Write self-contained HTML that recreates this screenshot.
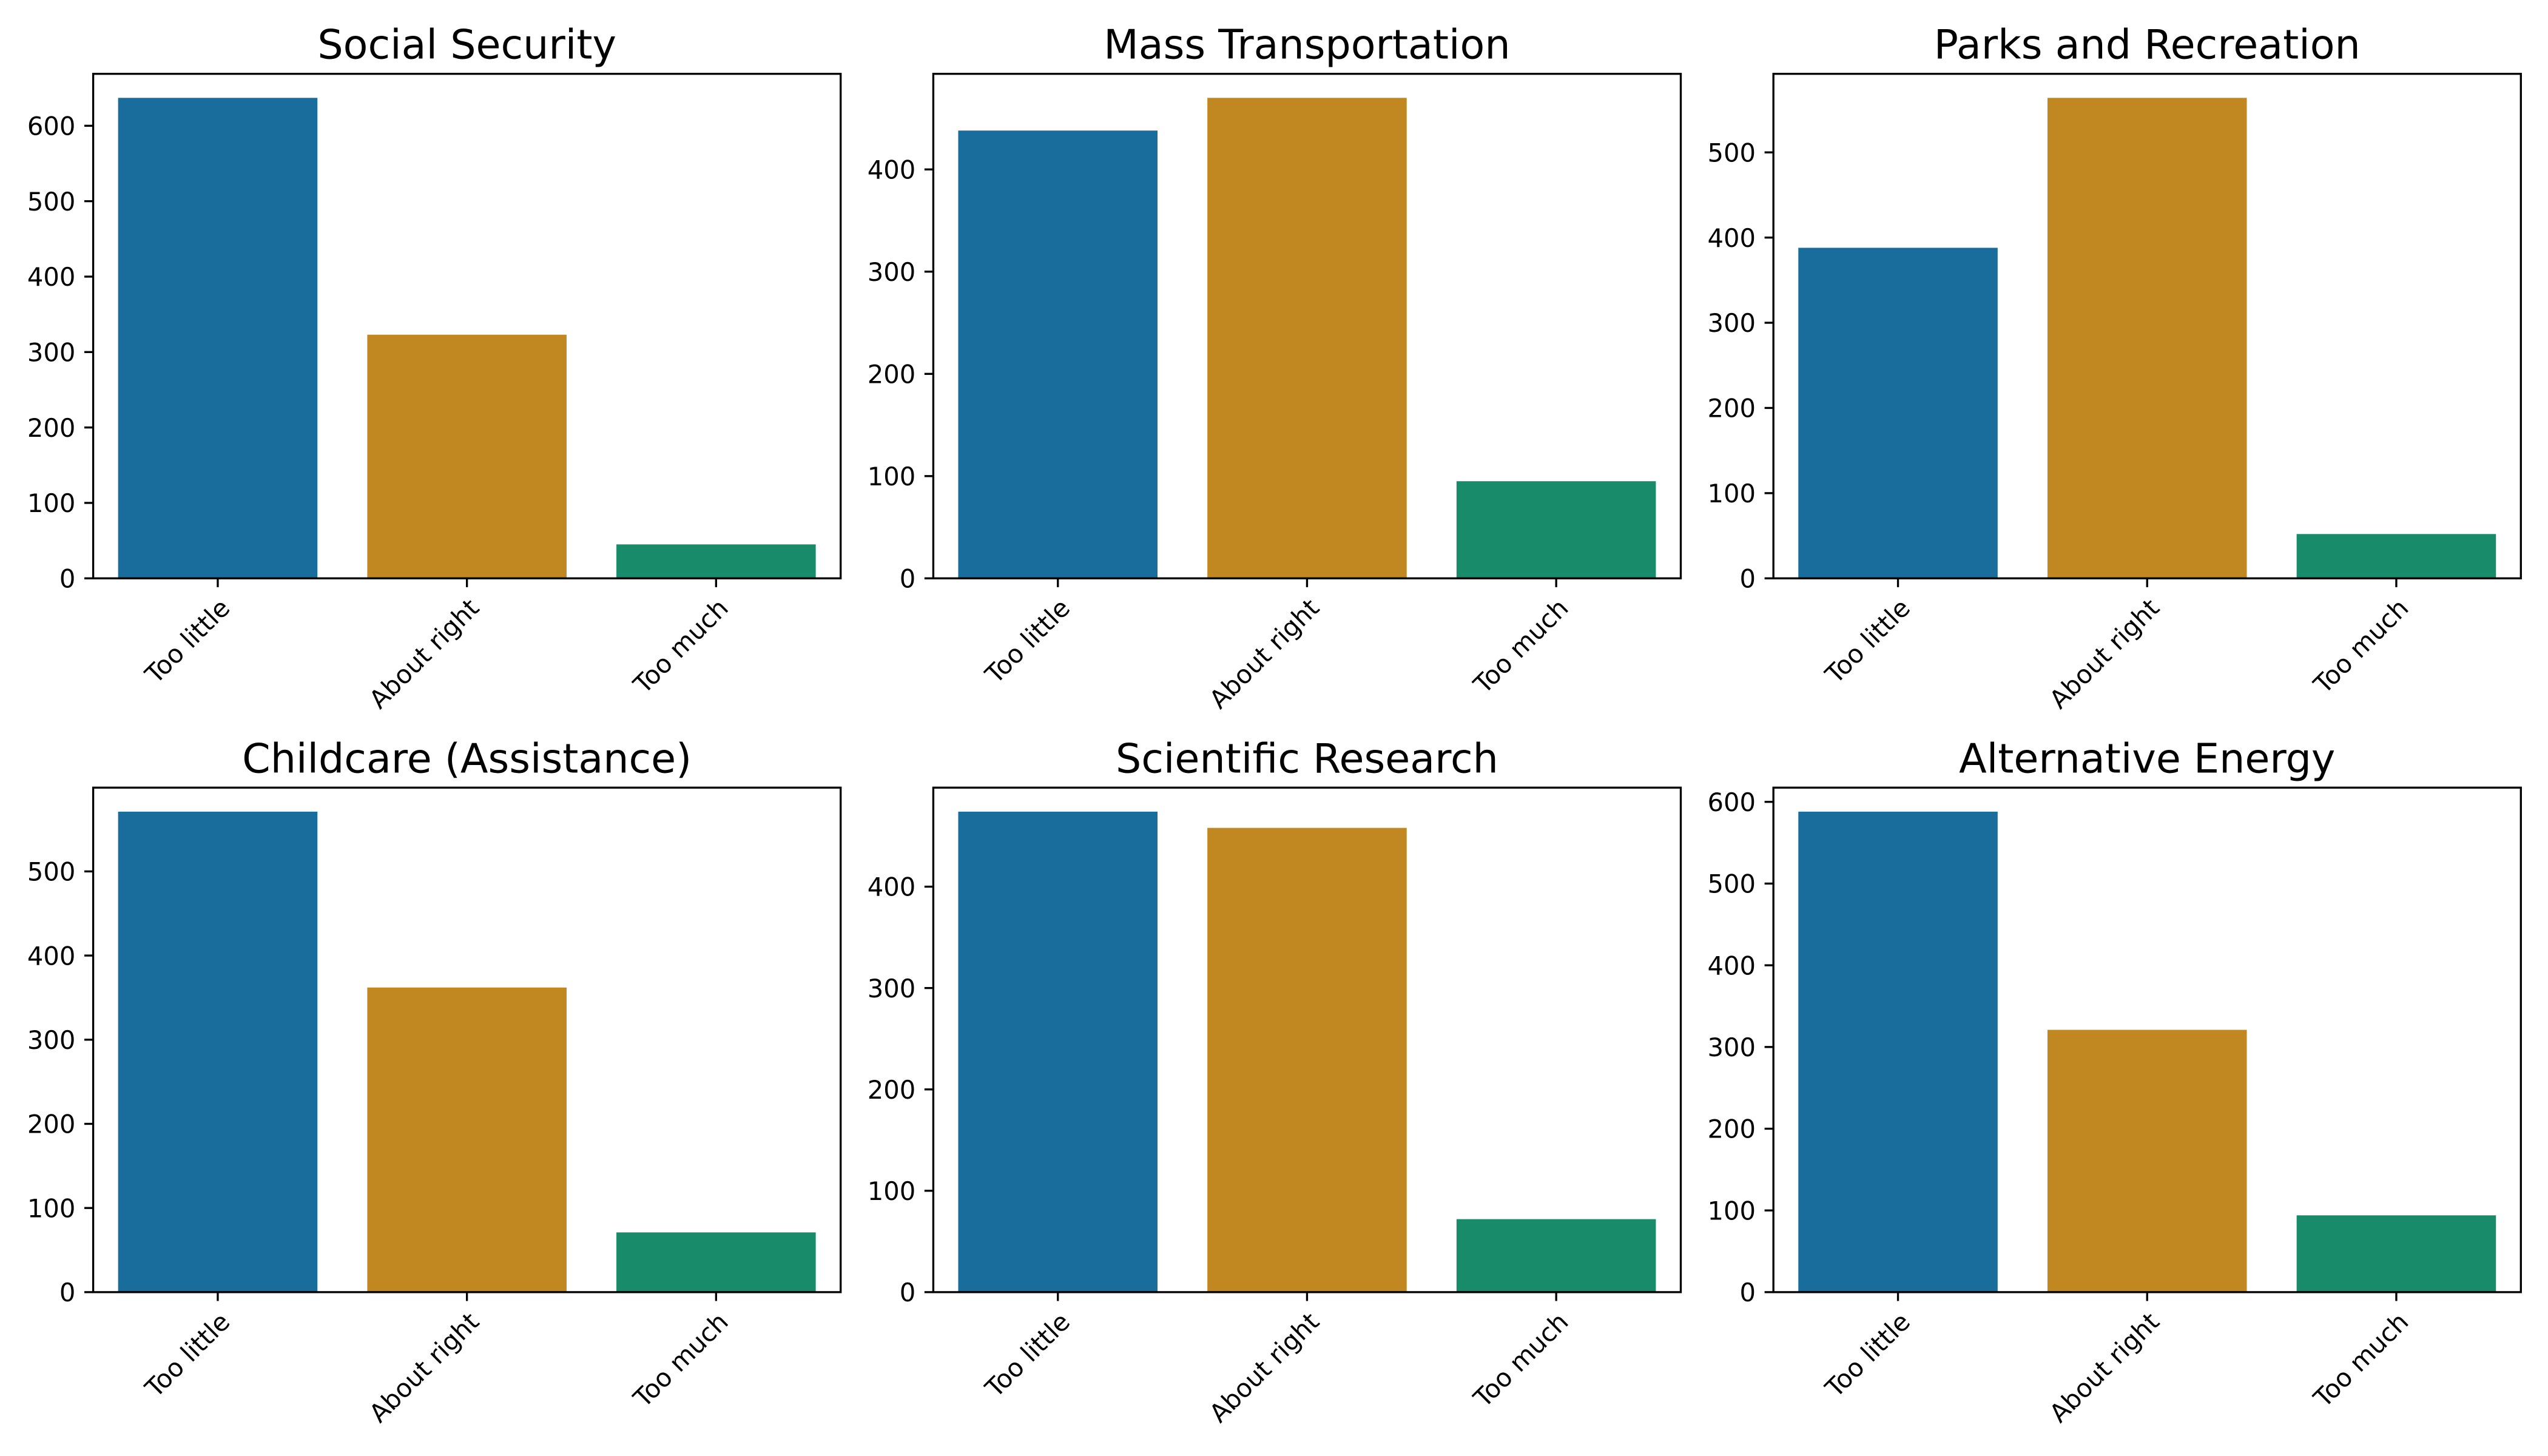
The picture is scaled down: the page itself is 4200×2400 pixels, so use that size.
<!DOCTYPE html>
<html lang="en">
<head>
<meta charset="utf-8">
<title>Spending opinions by category</title>
<style>
  html, body { margin: 0; padding: 0; background: #ffffff; }
  #chart { display: block; width: 4200px; height: 2400px; }
  text { font-family: "DejaVu Sans", "Liberation Sans", sans-serif; fill: #000000; }
</style>
</head>
<body>
<svg id="chart" xmlns="http://www.w3.org/2000/svg" width="4200" height="2400" viewBox="0 0 4200 2400"></svg>
<script>
const categories = ["Too little", "About right", "Too much"];

const panelTitles = ["Social Security", "Mass Transportation", "Parks and Recreation", "Childcare (Assistance)", "Scientific Research", "Alternative Energy"];

const socialSecurityValues = [637, 323, 45];
const massTransportationValues = [438, 470, 95];
const parksAndRecreationValues = [388, 564, 52];
const childcareValues = [571, 362, 71];
const scientificResearchValues = [474, 458, 72];
const alternativeEnergyValues = [588, 321, 94];

const socialSecurityTicks = [0, 100, 200, 300, 400, 500, 600];
const massTransportationTicks = [0, 100, 200, 300, 400];
const parksAndRecreationTicks = [0, 100, 200, 300, 400, 500];
const childcareTicks = [0, 100, 200, 300, 400, 500];
const scientificResearchTicks = [0, 100, 200, 300, 400];
const alternativeEnergyTicks = [0, 100, 200, 300, 400, 500, 600];

const panelValues = [socialSecurityValues, massTransportationValues, parksAndRecreationValues, childcareValues, scientificResearchValues, alternativeEnergyValues];
const panelTicks = [socialSecurityTicks, massTransportationTicks, parksAndRecreationTicks, childcareTicks, scientificResearchTicks, alternativeEnergyTicks];

const NS = "http://www.w3.org/2000/svg";
const svg = document.getElementById("chart");
const barColors = ["#186d9c", "#c18720", "#188b6b"];

const axesWidth = 1232.1;
const axesHeight = 831.6;
const axesLeftStart = 153.6;
const axesColumnStep = 1384.8;
const axesTopStart = 121.7;
const axesRowStep = 1176.6;
const lineWidth = 3.33;
const tickLength = 14.58;
const tickPad = 14.58;
const tickFontSize = 41.67;
const titleFontSize = 66.67;
const titlePad = 25;
const barWidthFraction = 0.8;

function makeEl(tag, attrs, parent) {
  const el = document.createElementNS(NS, tag);
  for (const key in attrs) el.setAttribute(key, attrs[key]);
  parent.appendChild(el);
  return el;
}

function kebab(text) {
  return text.toLowerCase().replace(/[^a-z0-9]+/g, "-").replace(/^-|-$/g, "");
}

function drawPanel(index) {
  const title = panelTitles[index];
  const values = panelValues[index];
  const ticks = panelTicks[index];
  const slug = kebab(title);

  const left = axesLeftStart + (index % 3) * axesColumnStep;
  const top = axesTopStart + Math.floor(index / 3) * axesRowStep;
  const bottom = top + axesHeight;
  const yMax = Math.max.apply(null, values) * 1.05;

  const xScale = function (position) { return left + (position + 0.5) / categories.length * axesWidth; };
  const yScale = function (value) { return bottom - value / yMax * axesHeight; };

  const group = makeEl("g", {}, svg);
  
  

  values.forEach(function (value, i) {
    const bar = makeEl("rect", {
      x: xScale(i - barWidthFraction / 2),
      y: yScale(value),
      width: xScale(i + barWidthFraction / 2) - xScale(i - barWidthFraction / 2),
      height: bottom - yScale(value),
      fill: barColors[i]
    }, group);
    
    
  });

  ticks.forEach(function (tick) {
    const y = yScale(tick);
    const mark = makeEl("line", {
      x1: left - tickLength, x2: left, y1: y, y2: y,
      stroke: "#000000", "stroke-width": lineWidth
    }, group);
    
    
    const label = makeEl("text", {
      x: left - tickLength - tickPad,
      y: y + 15.2,
      "text-anchor": "end",
      "font-size": tickFontSize
    }, group);
    label.textContent = String(tick);
    
    
  });

  categories.forEach(function (category, i) {
    const x = xScale(i);
    const mark = makeEl("line", {
      x1: x, x2: x, y1: bottom, y2: bottom + tickLength,
      stroke: "#000000", "stroke-width": lineWidth
    }, group);
    
    
    const label = makeEl("text", {
      x: 0,
      y: 31.7,
      "text-anchor": "end",
      "font-size": tickFontSize,
      transform: "translate(" + x + " " + (bottom + tickLength + tickPad) + ") rotate(-45)"
    }, group);
    label.textContent = category;
    
    
  });

  const frame = makeEl("rect", {
    x: left, y: top, width: axesWidth, height: axesHeight,
    fill: "none", stroke: "#000000", "stroke-width": lineWidth
  }, group);
  
  

  const titleEl = makeEl("text", {
    x: left + axesWidth / 2,
    y: top - titlePad,
    "text-anchor": "middle",
    "font-size": titleFontSize
  }, group);
  titleEl.textContent = title;
  
  
}

for (let p = 0; p < panelTitles.length; p++) {
  drawPanel(p);
}
</script>
</body>
</html>
